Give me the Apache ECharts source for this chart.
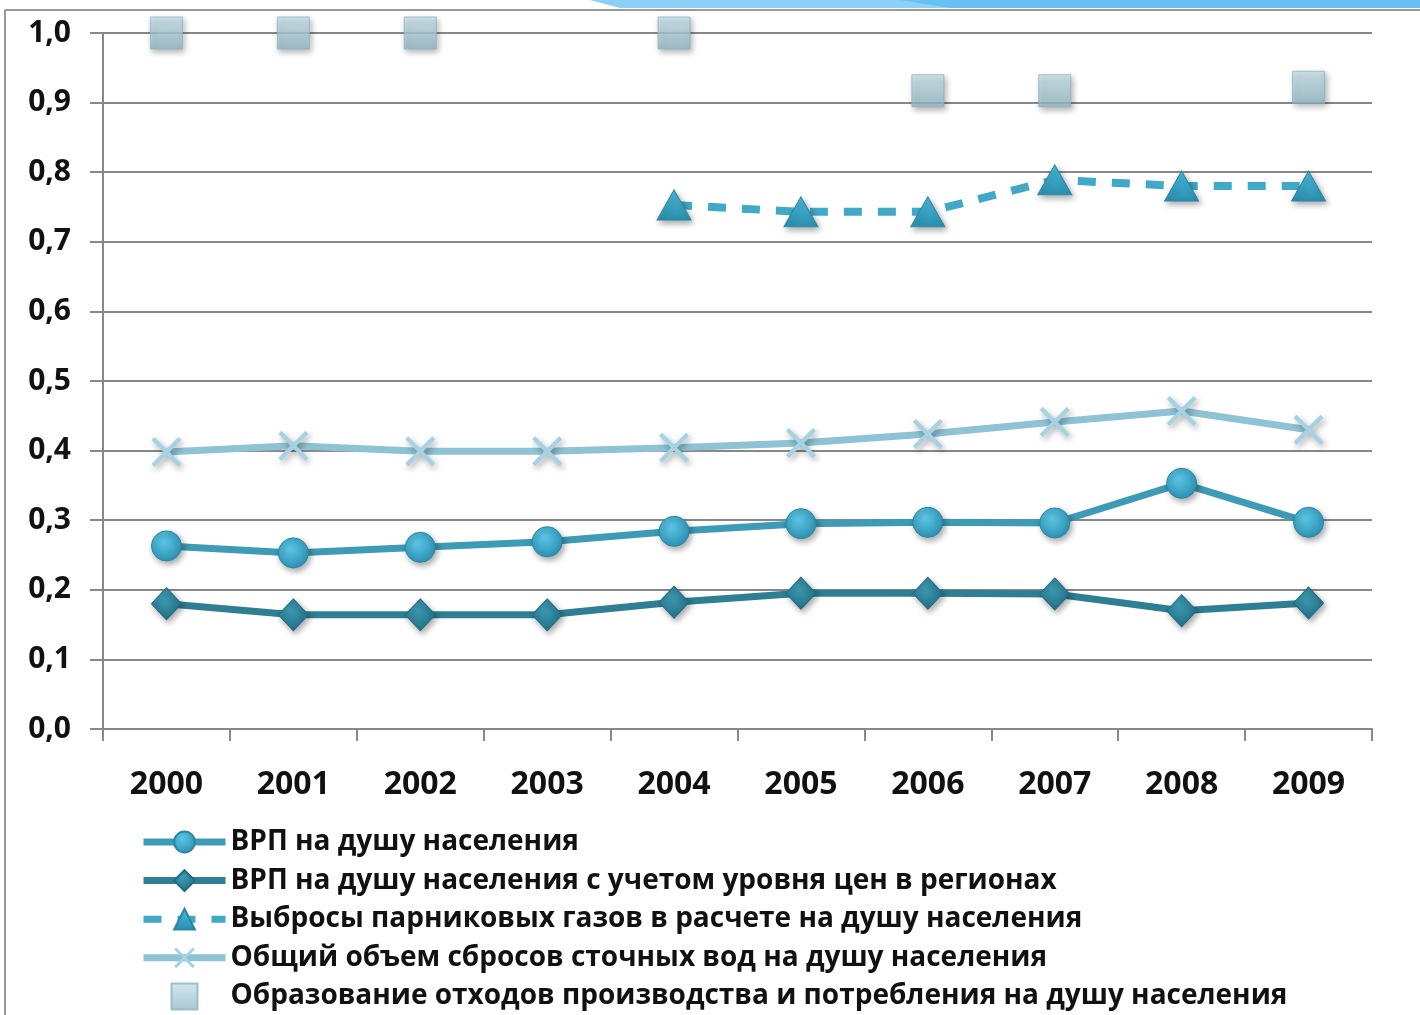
<!DOCTYPE html>
<html><head><meta charset="utf-8">
<script src="https://cdn.jsdelivr.net/npm/echarts@6/dist/echarts.min.js"></script>
<style>html,body{margin:0;padding:0;background:#fff}#c{width:1420px;height:1015px}</style>
</head><body><div id="c"></div>
<script>
var years = ['2000','2001','2002','2003','2004','2005','2006','2007','2008','2009'];
var yTicks = ['0,0','0,1','0,2','0,3','0,4','0,5','0,6','0,7','0,8','0,9','1,0'];
var names = [
  'ВРП на душу населения',
  'ВРП на душу населения с учетом уровня цен в регионах',
  'Выбросы парниковых газов в расчете на душу населения',
  'Общий объем сбросов сточных вод на душу населения',
  'Образование отходов производства и потребления на душу населения'
];
var grp = [0.263,0.253,0.261,0.269,0.284,0.295,0.297,0.296,0.353,0.297];
var grpPrice = [0.180,0.164,0.164,0.164,0.182,0.195,0.195,0.194,0.170,0.181];
var emissions = [null,null,null,null,0.753,0.743,0.743,0.789,0.780,0.780];
var wastewater = [0.398,0.407,0.399,0.399,0.404,0.411,0.424,0.441,0.457,0.430];
var waste = [1.0,1.0,1.0,null,1.0,null,0.917,0.917,null,0.922];

var crossPath = 'path://M2,0L10,8L18,0L20,2L12,10L20,18L18,20L10,12L2,20L0,18L8,10L0,2Z';
var squarePath = 'path://M0,0L10,0L10,10L0,10Z';
var shadow = {shadowBlur:6, shadowColor:'rgba(0,0,0,0.35)', shadowOffsetX:2, shadowOffsetY:3};
function radial(c1,c2){return {type:'radial',x:0.4,y:0.35,r:0.7,colorStops:[{offset:0,color:c1},{offset:1,color:c2}]};}
function linear(c1,c2){return {type:'linear',x:0,y:0,x2:0,y2:1,colorStops:[{offset:0,color:c1},{offset:1,color:c2}]};}
var chart = echarts.init(document.getElementById('c'));
chart.setOption({
  animation:false,
  textStyle:{fontFamily:'Open Sans'},
  graphic:[
    {type:'polygon', shape:{points:[[590,0],[1420,0],[1420,8],[620,8]]}, style:{fill:'#8dd0f7'}},
    {type:'polygon', shape:{points:[[900,0],[1420,0],[1420,8],[950,8]]}, style:{fill:'#66c2f5'}},
    {type:'line', shape:{x1:5,y1:10,x2:1420,y2:10}, style:{stroke:'#999',lineWidth:2}},
    {type:'line', shape:{x1:5,y1:10,x2:5,y2:1015}, style:{stroke:'#999',lineWidth:2}}
  ],
  grid:{left:103, right:48, top:33, bottom:286},
  legend:{
    orient:'vertical', left:135, top:823, height:200, itemGap:10.6, itemWidth:82, itemHeight:26,
    textStyle:{fontSize:28, fontWeight:'bold', color:'#111', fontFamily:'Open Sans'},
    data:[
      {name:names[0], lineStyle:{width:7}},
      {name:names[1], lineStyle:{width:7}},
      {name:names[2], lineStyle:{width:7}},
      {name:names[3], lineStyle:{width:7}},
      {name:names[4]}
    ]
  },
  xAxis:{
    type:'category', data:years, boundaryGap:true,
    axisLine:{lineStyle:{color:'#888', width:2}},
    axisTick:{show:true, length:12, lineStyle:{color:'#888', width:2}},
    axisLabel:{fontSize:32, fontWeight:'bold', color:'#111', margin:40}
  },
  yAxis:{
    type:'value', min:0, max:1, interval:0.1,
    axisLine:{show:true, lineStyle:{color:'#888', width:2}},
    axisTick:{show:true, inside:false, length:13, lineStyle:{color:'#888', width:2}},
    splitLine:{lineStyle:{color:'#888', width:2}},
    axisLabel:{fontSize:30, fontWeight:'bold', color:'#111', margin:32,
      formatter:function(v){return yTicks[Math.round(v*10)];}}
  },
  series:[
    {name:names[0], type:'line', data:grp, symbol:'circle', symbolSize:30,
      lineStyle:{color:'#3d9bb6', width:7},
      itemStyle:Object.assign({color:radial('#5cc6e6','#2a8fb0'), borderColor:'#2a87a4', borderWidth:1}, shadow), z:4},
    {name:names[1], type:'line', data:grpPrice, symbol:'diamond', symbolSize:[30,32],
      lineStyle:{color:'#2e7f93', width:7},
      itemStyle:Object.assign({color:radial('#3c9bb4','#226f84'), borderColor:'#236b80', borderWidth:1}, shadow), z:4},
    {name:names[2], type:'line', data:emissions, symbol:'triangle', symbolSize:[34,30],
      lineStyle:{color:'#40a9c8', width:8, type:[18,16]},
      itemStyle:Object.assign({color:linear('#4cbbdc','#2a8fae'), borderColor:'#2a87a4', borderWidth:1}, shadow), z:4},
    {name:names[3], type:'line', data:wastewater, symbol:crossPath, symbolSize:30,
      lineStyle:{color:'#8ec2d5', width:7},
      itemStyle:Object.assign({color:'#a6d3e3'}, shadow), z:3},
    {name:names[4], type:'scatter', data:waste, symbol:squarePath, symbolSize:32, symbolKeepAspect:true,
      itemStyle:Object.assign({color:linear('#c8e2ea','#93b9c6'), borderColor:'#8fb3c1', borderWidth:1}, shadow), z:5}
  ]
});
</script></body></html>
